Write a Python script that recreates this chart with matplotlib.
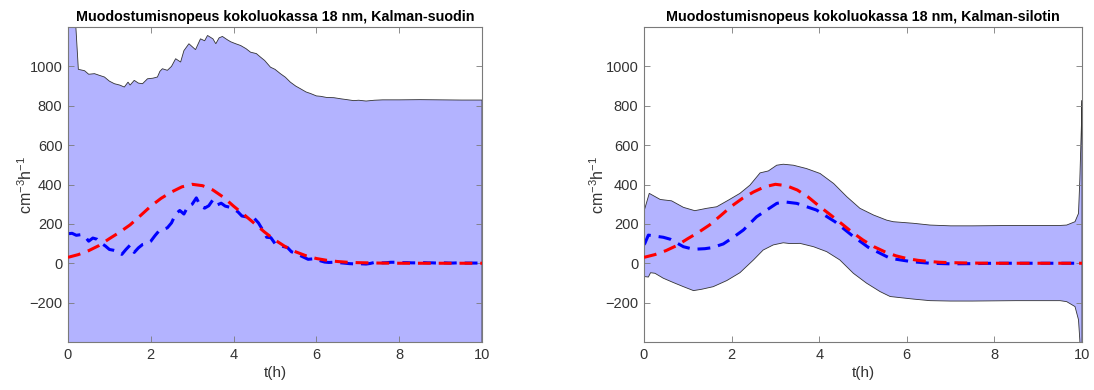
import numpy as np
import matplotlib
matplotlib.use("Agg")
import matplotlib.pyplot as plt

plt.rcParams['font.family'] = ['Liberation Sans', 'DejaVu Sans']
plt.rcParams['mathtext.default'] = 'regular'

# ---------------- data ----------------
titles = ["Muodostumisnopeus kokoluokassa 18 nm, Kalman-suodin",
          "Muodostumisnopeus kokoluokassa 18 nm, Kalman-silotin"]
xlabel = "t(h)"
ylabel = "cm$^{-3}$h$^{-1}$"
xticks = [0, 2, 4, 6, 8, 10]
yticks = [-200, 0, 200, 400, 600, 800, 1000]

# true formation rate (red)
t_true = [0, 0.25, 0.5, 0.75, 1.0, 1.25, 1.5, 1.75, 2.0, 2.25,
          2.5, 2.75, 3.0, 3.25, 3.5, 3.75, 4.0, 4.25, 4.5, 4.75,
          5.0, 5.25, 5.5, 5.75, 6.0, 6.25, 6.5, 6.75, 7.0, 7.25,
          7.5, 7.75, 8.0, 8.25, 8.5, 8.75, 9.0, 9.25, 9.5, 9.75, 10.0]
v_true = [30, 44, 64, 90, 125, 158, 195, 242, 290, 330,
          362, 388, 401, 394, 372, 336, 290, 247, 203, 158,
          118, 84, 58, 38, 24, 15, 9, 5, 3, 2,
          1, 0.5, 0, 0, 0, 0, 0, 0, 0, 0, 0]

# Kalman filter estimate (left, blue) on 0.1 h grid
t_filt = [round(0.1 * i, 1) for i in range(101)]
v_filt = [150, 152, 142, 145, 138, 112, 128, 122, 102, 88,
          70, 66, 60, 45, 70, 92, 55, 78, 95, 100,
          112, 140, 165, 172, 180, 205, 250, 268, 250, 290,
          300, 332, 290, 280, 292, 322, 296, 305, 290, 285,
          275, 262, 240, 236, 234, 228, 205, 170, 132, 130,
          100, 92, 85, 80, 58, 52, 40, 30, 20, 22,
          22, 12, 6, 4, 5, 3, 2, 0, -2, -3,
          -2, -3, -4, -1, 4, 4, 2, 3, 5, 5,
          4,
          3, 3, 2, 2, 2, 3, 2, 2, 1, 2,
          2, 1, 1, 2, 1, 1, 1, 1, 1, 1]

# filter confidence band (left)
t_filt_up = [0, 0.1, 0.19, 0.25, 0.4, 0.5, 0.64, 0.75, 0.88, 1.0,
             1.12, 1.25, 1.36, 1.45, 1.5, 1.6, 1.7, 1.8, 1.92, 2.05,
             2.16, 2.22, 2.28, 2.4, 2.5, 2.6, 2.72, 2.8, 2.92, 3.0,
             3.08, 3.2, 3.3, 3.37, 3.5, 3.57, 3.65, 3.73, 3.85, 3.93,
             4.05, 4.17, 4.3, 4.41, 4.55, 4.65, 4.75, 4.89, 5.0, 5.13,
             5.25, 5.37, 5.5, 5.61, 5.75, 5.86, 6.0, 6.1, 6.25, 6.42,
             6.6, 6.74, 6.9, 7.02, 7.2, 7.4, 7.6, 8.0, 8.5, 9.0,
             9.5, 10.0]
v_filt_up = [4000, 1800, 1200, 985, 978, 960, 963, 955, 946, 925,
             912, 905, 895, 920, 905, 929, 915, 912, 937, 940,
             946, 975, 988, 980, 1000, 1039, 1022, 1080, 1115, 1100,
             1085, 1140, 1130, 1157, 1140, 1115, 1145, 1152, 1135, 1125,
             1115, 1106, 1090, 1072, 1065, 1047, 1030, 996, 985, 963,
             945, 920, 900, 887, 870, 862, 850, 848, 842, 841,
             835, 831, 826, 828, 824, 828, 830, 830, 831, 830,
             829, 829]
t_filt_lo = [0, 0.2, 3.0, 7.0, 10.0]
v_filt_lo = [-3700, -1100, -550, -830, -830]

# Kalman smoother estimate (right, blue)
t_smooth = [0, 0.02, 0.1, 0.25, 0.44, 0.6, 0.9, 1.13, 1.39, 1.55,
            1.81, 2.04, 2.27, 2.57, 2.8, 3.03, 3.2, 3.49, 3.94, 4.36,
            4.74, 5.12, 5.62, 6.11, 6.53, 7.0, 7.5, 8.0, 9.0, 10.0]
v_smooth = [95, 101, 143, 138, 132, 122, 84, 71, 74, 79,
            98, 132, 169, 236, 270, 304, 312, 304, 270, 211,
            143, 81, 25, 8, 0, -3, -2, 0, 0, 0]

# smoother confidence band (right)
t_smooth_up = [0, 0.02, 0.12, 0.37, 0.63, 0.9, 1.16, 1.43, 1.66, 1.93,
               2.19, 2.42, 2.65, 2.84, 3.03, 3.18, 3.41, 3.71, 4.02, 4.33,
               4.63, 4.93, 5.24, 5.54, 5.69, 6.15, 6.53, 7.0, 7.5, 8.0,
               8.5, 9.0, 9.5, 9.65, 9.84, 9.92, 9.95, 9.99, 10.0]
v_smooth_up = [270, 279, 355, 324, 317, 284, 267, 279, 287, 321,
               355, 397, 459, 469, 498, 503, 498, 481, 456, 405,
               338, 279, 245, 219, 211, 203, 194, 190, 190, 191,
               192, 192, 192, 194, 211, 253, 422, 726, 828]
t_smooth_lo = [0, 0.02, 0.1, 0.15, 0.25, 0.44, 0.67, 0.9, 1.13, 1.32,
               1.58, 1.89, 2.19, 2.5, 2.72, 2.95, 3.18, 3.33, 3.56, 3.87,
               4.17, 4.47, 4.78, 5.08, 5.39, 5.62, 6.15, 6.53, 7.0, 7.5,
               8.0, 8.5, 9.0, 9.5, 9.65, 9.84, 9.92, 9.95, 10.0]
v_smooth_lo = [-70, -68, -70, -48, -51, -76, -98, -119, -139, -132,
               -119, -88, -48, 17, 67, 93, 104, 100, 101, 84,
               59, 17, -51, -101, -144, -169, -182, -190, -192, -192,
               -191, -190, -190, -190, -195, -220, -287, -389, -800]

# ---------------- style ----------------
fill_color = '#b3b3ff'
edge_color = '#333333'
axis_color = '#7a7a7a'
text_color = '#333333'

fig = plt.figure(figsize=(10.94, 3.90), dpi=100)
ax1 = fig.add_axes([68 / 1094, 1 - 342 / 390, 414 / 1094, 315 / 390])
ax2 = fig.add_axes([644 / 1094, 1 - 342 / 390, 438 / 1094, 315 / 390])

panels = [
    (ax1, t_filt_up, v_filt_up, t_filt_lo, v_filt_lo, t_filt, v_filt, titles[0], -0.080),
    (ax2, t_smooth_up, v_smooth_up, t_smooth_lo, v_smooth_lo, t_smooth, v_smooth, titles[1], -0.085),
]

for ax, tu, vu, tl, vl, tb, vb, title, ylx in panels:
    xs = np.concatenate([tu, tl[::-1]])
    ys = np.concatenate([vu, vl[::-1]])
    ax.fill(xs, ys, facecolor=fill_color, edgecolor=edge_color, linewidth=0.6, zorder=1)
    ax.plot(t_true, v_true, color='red', lw=2.2, dashes=(4.2, 2.6), zorder=3)
    ax.plot(tb, vb, color='blue', lw=2.2, dashes=(4.2, 2.6), zorder=2)
    ax.set_xlim(0, 10)
    ax.set_ylim(-400, 1200)
    ax.set_xticks(xticks)
    ax.set_yticks(yticks)
    ax.tick_params(direction='in', length=4, width=0.6, colors=axis_color,
                   labelcolor=text_color, labelsize=10.5, pad=4,
                   top=True, right=True)
    for sp in ax.spines.values():
        sp.set_color(axis_color)
        sp.set_linewidth(0.8)
    ax.set_title(title, fontsize=10.3, fontweight='bold', color='black', pad=4)
    ax.set_xlabel(xlabel, fontsize=11, color=text_color, labelpad=3)
    ax.set_ylabel(ylabel, fontsize=11.5, color=text_color)
    ax.yaxis.set_label_coords(ylx, 0.5)

fig.savefig("out.png", dpi=100)
